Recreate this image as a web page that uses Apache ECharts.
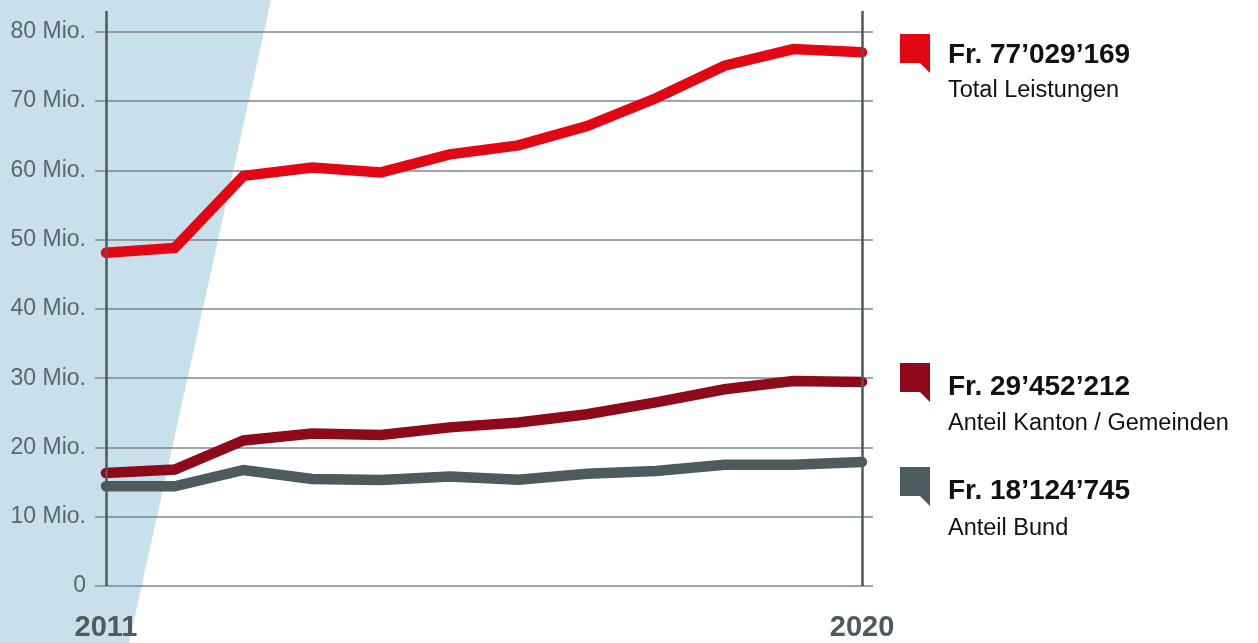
<!DOCTYPE html>
<html>
<head>
<meta charset="utf-8">
<script src="https://cdn.jsdelivr.net/npm/echarts@6/dist/echarts.min.js"></script>
<style>
html, body { margin: 0; padding: 0; background: #fff; }
#chart { width: 1258px; height: 643px; }
</style>
</head>
<body>
<div id="chart"></div>
<script>
// x positions (12 data points, only first and last labelled)
var xTickLabels = ['2011', '', '', '', '', '', '', '', '', '', '', '2020'];
var total  = [48.1, 48.8, 59.2, 60.4, 59.7, 62.3, 63.6, 66.4, 70.4, 75.1, 77.5, 77.03];
var kanton = [16.3, 16.8, 21.0, 22.0, 21.8, 22.9, 23.6, 24.8, 26.5, 28.4, 29.6, 29.45];
var bund   = [14.4, 14.4, 16.75, 15.45, 15.3, 15.8, 15.35, 16.2, 16.6, 17.5, 17.5, 17.9];

var legendValues = ['Fr. 77’029’169', 'Fr. 29’452’212', 'Fr. 18’124’745'];
var legendNames  = ['Total Leistungen', 'Anteil Kanton / Gemeinden', 'Anteil Bund'];
var colors = ['#e30613', '#8e0a1b', '#4d5a5e'];

function pairs(arr) {
    return arr.map(function (v, i) { return [i, v]; });
}
var labelled = [];
xTickLabels.forEach(function (l, i) { if (l) labelled.push(i); });

var font = "'Liberation Sans', Arial, sans-serif";

// legend flags on the right
var flagTops = [34, 363, 467];
var valueY = [55, 387, 491];
var nameY = [91, 424, 529];
var graphics = [{
    type: 'polygon',
    z: -10,
    shape: { points: [[0, 0], [271, 0], [129, 643], [0, 643]] },
    style: { fill: '#c8e0eb' }
}];
for (var i = 0; i < 3; i++) {
    var t = flagTops[i];
    graphics.push({
        type: 'polygon',
        shape: { points: [[900, t], [930, t], [930, t + 39], [920, t + 29], [900, t + 29]] },
        style: { fill: colors[i] }
    });
    graphics.push({
        type: 'text', x: 948, y: valueY[i],
        style: { text: legendValues[i], font: 'bold 28px ' + font, fill: '#111', verticalAlign: 'middle' }
    });
    graphics.push({
        type: 'text', x: 948, y: nameY[i],
        style: { text: legendNames[i], font: '23.5px ' + font, fill: '#111', verticalAlign: 'middle' }
    });
}

var lineStyle = function (c) {
    return { color: c, width: 10.5, cap: 'round', join: 'miter' };
};

var myChart = echarts.init(document.getElementById('chart'));
myChart.setOption({
    animation: false,
    backgroundColor: '#ffffff',
    grid: {
        left: 95,
        right: 385,
        top: 11,
        bottom: 57,
        containLabel: false
    },
    xAxis: {
        type: 'value',
        min: -0.16,
        max: 11.16,
        axisLine: { show: false },
        axisTick: { show: false },
        splitLine: { show: false },
        axisLabel: {
            customValues: labelled,
            formatter: function (v) { return xTickLabels[Math.round(v)] || ''; },
            color: '#4d5a5e',
            fontFamily: font,
            fontWeight: 'bold',
            fontSize: 29,
            margin: 27
        }
    },
    yAxis: {
        type: 'value',
        min: 0,
        max: 83,
        interval: 10,
        axisLine: { show: false },
        axisTick: { show: false },
        splitLine: {
            showMaxLine: false,
            lineStyle: { color: '#7c878b', width: 1.5 }
        },
        axisLabel: {
            showMaxLabel: false,
            formatter: function (v) { return v === 0 ? '0' : v + ' Mio.'; },
            color: '#5a676c',
            fontFamily: font,
            fontSize: 23,
            margin: 9,
            verticalAlign: 'middle',
            padding: [0, 0, 15, 0]
        }
    },
    graphic: graphics,
    series: [
        {
            type: 'line',
            data: [],
            z: 1,
            silent: true,
            markLine: {
                symbol: 'none',
                silent: true,
                label: { show: false },
                lineStyle: { color: '#4d5a5e', width: 2.5, type: 'solid' },
                data: [{ xAxis: 0 }, { xAxis: xTickLabels.length - 1 }]
            }
        },
        {
            name: 'Anteil Bund',
            type: 'line',
            z: 3,
            symbol: 'none',
            lineStyle: lineStyle(colors[2]),
            data: pairs(bund)
        },
        {
            name: 'Anteil Kanton / Gemeinden',
            type: 'line',
            z: 3,
            symbol: 'none',
            lineStyle: lineStyle(colors[1]),
            data: pairs(kanton)
        },
        {
            name: 'Total Leistungen',
            type: 'line',
            z: 3,
            symbol: 'none',
            lineStyle: lineStyle(colors[0]),
            data: pairs(total)
        }
    ]
});
</script>
</body>
</html>
